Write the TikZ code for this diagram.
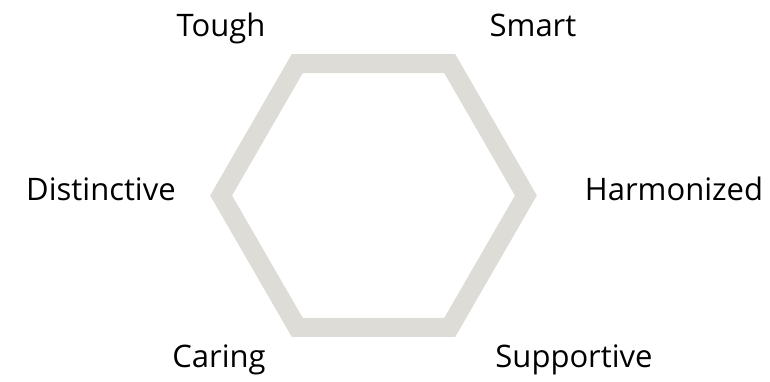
\documentclass[tikz,border=0pt]{standalone}
\usepackage{fontspec}
\setmainfont{Open Sans}
\usetikzlibrary{positioning}
\definecolor{hexgray}{RGB}{221,220,215}
\tikzset{
  trait/.style={font=\fontsize{31}{34}\selectfont,text=black,inner sep=0pt,anchor=base},
  hexline/.style={draw=hexgray,line width=19pt,line join=miter},
}
\begin{document}
\begin{tikzpicture}[x=1pt,y=1pt]
  \useasboundingbox (0,0) rectangle (770,381);
  \coordinate (centre) at (373.5,185.5);
  \draw[hexline,shift={(centre)}] (0:152.4) -- (60:152.4) -- (120:152.4) -- (180:152.4)
    -- (240:152.4) -- (300:152.4) -- cycle;

  \node[trait] (tough) at (221,344) {Tough};
  \node[trait] (smart) at (533,344) {Smart};
  \node[trait] (distinctive) at (101,181) {Distinctive};
  \node[trait] (harmonized) at (674,181) {Harmonized};
  \node[trait] (caring) at (219,14) {Caring};
  \node[trait] (supportive) at (574,14) {Supportive};
\end{tikzpicture}
\end{document}
